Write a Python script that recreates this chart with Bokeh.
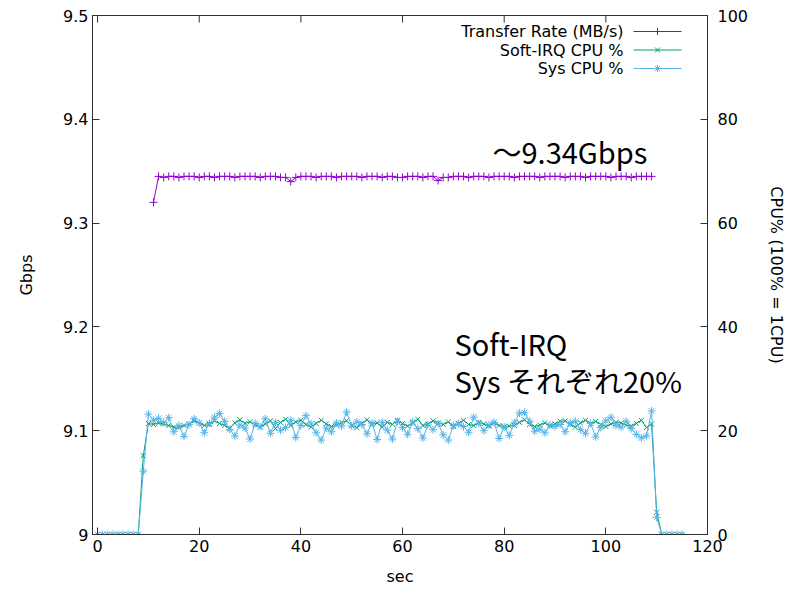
from bokeh.plotting import figure
from bokeh.models import Range1d, LinearAxis, FixedTicker, Label
from bokeh.embed import file_html
from bokeh.resources import INLINE

# ---------------- data ----------------
rate_x = list(range(11, 110))
rate_gbps = [
    9.320,
    9.345, 9.344, 9.345, 9.345, 9.344, 9.345, 9.345, 9.345, 9.344,
    9.345, 9.345, 9.344, 9.345, 9.345, 9.345, 9.344, 9.345, 9.345, 9.345,
    9.345, 9.344, 9.345, 9.345, 9.345, 9.344, 9.344, 9.340, 9.344, 9.345,
    9.345, 9.345, 9.344, 9.345, 9.345, 9.345, 9.344, 9.345, 9.345, 9.345,
    9.345, 9.344, 9.345, 9.345, 9.345, 9.344, 9.345, 9.345, 9.344, 9.344,
    9.345, 9.345, 9.345, 9.344, 9.345, 9.345, 9.341, 9.344, 9.344, 9.345,
    9.345, 9.345, 9.344, 9.345, 9.345, 9.345, 9.344, 9.345, 9.345, 9.345,
    9.345, 9.344, 9.345, 9.345, 9.345, 9.345, 9.344, 9.345, 9.345, 9.345,
    9.345, 9.344, 9.345, 9.345, 9.345, 9.344, 9.345, 9.345, 9.345, 9.345,
    9.344, 9.345, 9.345, 9.345, 9.344, 9.345, 9.345, 9.345, 9.345,
]

cpu_x = list(range(0, 116))
softirq_cpu = [
    0, 0, 0, 0, 0, 0, 0, 0, 0,
    15.2,
    21.4, 21.2, 21.5, 21.3, 21.0, 20.7, 20.6, 21.0, 21.3, 21.9,
    21.5, 21.0, 21.2, 21.9, 21.4, 21.0, 20.5, 21.5, 22.1, 21.4,
    21.7, 21.1, 20.7, 21.3, 21.9, 20.4, 21.6, 22.2, 21.0, 21.7,
    22.0, 21.2, 20.7, 21.4, 22.0, 21.3, 20.8, 21.1, 21.6, 21.9,
    21.0, 20.6, 21.4, 22.1, 21.2, 21.5, 20.7, 21.6, 21.2, 22.0,
    21.4, 20.9, 21.5, 22.2, 21.0, 21.3, 21.9, 21.5, 21.2, 21.7,
    20.8, 21.4, 22.0, 21.2, 21.0, 21.6, 21.3, 20.9, 21.5, 21.0,
    20.8, 20.9, 21.0, 21.6, 22.1, 21.2, 20.8, 21.1, 21.5, 20.9,
    21.3, 21.8, 21.9, 21.2, 20.7, 21.5, 22.0, 21.4, 21.8, 21.2,
    20.8, 21.3, 21.6, 21.5, 21.1, 20.9, 21.4, 22.0, 20.6, 21.3,
    4.3,
    0, 0, 0, 0, 0,
]
sys_cpu = [
    0, 0, 0, 0, 0, 0, 0, 0, 0,
    12.2,
    23.2, 22.0, 22.4, 21.6, 22.5, 19.8, 21.0, 18.9, 21.2, 22.3,
    21.5, 19.6, 21.4, 22.6, 23.3, 21.8, 20.2, 19.0, 21.1, 20.5,
    18.4, 21.4, 20.8, 22.3, 19.5, 21.6, 20.1, 20.6, 22.0, 18.7,
    21.0, 22.9, 21.3, 19.6, 18.2, 20.5, 19.8, 21.5, 20.9, 23.6,
    20.9, 21.7, 21.2, 19.4, 21.5, 18.3, 21.6, 20.1, 18.4, 21.8,
    20.6, 19.3, 21.7, 20.4, 18.6, 21.1, 20.2, 21.4, 19.2, 18.2,
    21.0, 21.3, 20.8, 19.7, 22.6, 21.4, 20.0, 21.1, 21.6, 18.5,
    20.7, 19.1, 21.5, 23.4, 23.5, 21.8, 19.9, 20.3, 19.6, 21.1,
    20.8, 21.2, 19.8, 21.5, 21.8, 20.2, 19.5, 21.4, 18.8, 20.6,
    21.9, 22.6, 21.0, 20.7, 21.8, 20.4, 19.3, 18.6, 19.0, 23.8,
    3.3,
    0, 0, 0, 0, 0,
]

x_ticks = [0, 20, 40, 60, 80, 100, 120]
gbps_ticks = [9.0, 9.1, 9.2, 9.3, 9.4, 9.5]
gbps_tick_labels = ["9", "9.1", "9.2", "9.3", "9.4", "9.5"]
cpu_ticks = [0, 20, 40, 60, 80, 100]

series_names = ["Transfer Rate (MB/s)", "Soft-IRQ CPU %", "Sys CPU %"]
series_colors = ["#9400d3", "#009e73", "#56b4e9"]
series_markers = ["cross", "x", "asterisk"]

# ---------------- figure ----------------
W, H = 789, 589
FL, FR, FT, FB = 92, 82, 15, 55
X0, X1 = -1, 120
Y0, Y1 = 9.0, 9.5
C0, C1 = 0, 100

p = figure(width=W, height=H, output_backend="svg", toolbar_location=None,
           x_range=Range1d(X0, X1), y_range=Range1d(Y0, Y1),
           min_border_left=FL, min_border_right=FR,
           min_border_top=FT, min_border_bottom=FB,
           background_fill_color="white", border_fill_color="white")
p.extra_y_ranges = {"cpu": Range1d(C0, C1)}
p.xgrid.visible = False
p.ygrid.visible = False
p.outline_line_color = "#303030"
p.outline_line_width = 1

FONT = "DejaVu Sans"
FS = "16px"
AXC = "#303030"
TICK = 7

fw = W - FL - FR
fh = H - FT - FB


def dx(px):
    return X0 + (px - FL) / fw * (X1 - X0)


def dy(py):
    return Y1 - (py - FT) / fh * (Y1 - Y0)


def style_axis(ax, ticks):
    ax.ticker = FixedTicker(ticks=ticks)
    ax.minor_tick_line_color = None
    ax.major_tick_in = TICK
    ax.major_tick_out = 0
    ax.major_tick_line_color = AXC
    ax.axis_line_color = AXC
    ax.major_label_text_font = FONT
    ax.major_label_text_font_size = FS
    ax.major_label_text_color = "black"
    ax.axis_label_text_font = FONT
    ax.axis_label_text_font_size = FS
    ax.axis_label_text_font_style = "normal"
    ax.axis_label_text_color = "black"


xa = p.xaxis[0]
style_axis(xa, x_ticks)
xa.axis_label = "sec"
xa.major_label_standoff = 5
xa.axis_label_standoff = 12

ya = p.yaxis[0]
style_axis(ya, gbps_ticks)
ya.major_label_overrides = {t: s for t, s in zip(gbps_ticks, gbps_tick_labels)}
ya.axis_label = "Gbps"
ya.major_label_standoff = 4
ya.axis_label_standoff = 24

ra = LinearAxis(y_range_name="cpu", axis_label="CPU% (100% = 1CPU)")
style_axis(ra, cpu_ticks)
ra.major_label_standoff = 10
ra.axis_label_standoff = 16
p.add_layout(ra, "right")

# mirrored x ticks on the top border (gnuplot style)
p.segment(x0=x_ticks, y0=[Y1] * len(x_ticks), x1=x_ticks,
          y1=[dy(FT + TICK)] * len(x_ticks), line_color=AXC, line_width=1)

# ---------------- series ----------------
p.line(rate_x, rate_gbps, line_color=series_colors[0], line_width=1)
p.scatter(rate_x, rate_gbps, marker=series_markers[0], size=8,
          line_color=series_colors[0], line_width=1)

p.line(cpu_x, softirq_cpu, line_color=series_colors[1], line_width=1,
       y_range_name="cpu")
p.scatter(cpu_x, softirq_cpu, marker=series_markers[1], size=7,
          line_color=series_colors[1], line_width=1, y_range_name="cpu")

p.line(cpu_x, sys_cpu, line_color=series_colors[2], line_width=1,
       y_range_name="cpu")
p.scatter(cpu_x, sys_cpu, marker=series_markers[2], size=8,
          line_color=series_colors[2], line_width=1, y_range_name="cpu")

# ---------------- legend (gnuplot style: text then key) ----------------
rows_py = [31, 49.5, 68]
for name, col, mk, py in zip(series_names, series_colors, series_markers, rows_py):
    p.add_layout(Label(x=dx(623), y=dy(py), text=name, text_align="right",
                       text_baseline="middle", text_font=FONT,
                       text_font_size=FS, text_color="black"))
    p.line([dx(633), dx(681)], [dy(py), dy(py)], line_color=col,
           line_width=1)
    p.scatter([dx(657)], [dy(py)], marker=mk, size=7, line_color=col,
              line_width=1)

# ---------------- annotations ----------------
AFONT = "Noto Sans CJK JP"
AFS = "29px"
p.add_layout(Label(x=dx(492), y=dy(150), text="～9.34Gbps",
                   text_baseline="middle", text_font=AFONT,
                   text_font_size=AFS, text_color="black"))
p.add_layout(Label(x=dx(454), y=dy(342), text="Soft-IRQ",
                   text_baseline="middle", text_font=AFONT,
                   text_font_size=AFS, text_color="black"))
p.add_layout(Label(x=dx(454), y=dy(379), text="Sys それぞれ20%",
                   text_baseline="middle", text_font=AFONT,
                   text_font_size=AFS, text_color="black"))

open("out.html", "w").write(file_html(p, INLINE))
